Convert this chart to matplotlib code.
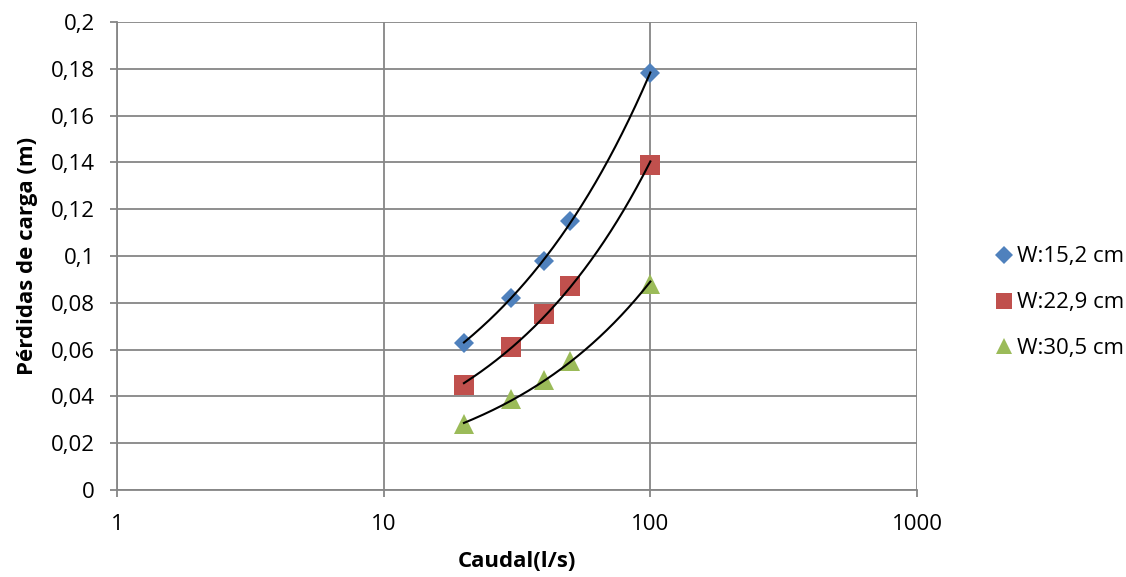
import matplotlib
matplotlib.use("Agg")
import matplotlib.pyplot as plt
import numpy as np
from matplotlib.ticker import FuncFormatter, FixedLocator, NullLocator

caudal = [20, 30, 40, 50, 100]
w152 = [0.063, 0.082, 0.098, 0.115, 0.178]
w229 = [0.045, 0.061, 0.075, 0.087, 0.139]
w305 = [0.028, 0.039, 0.047, 0.055, 0.088]
labels = ["W:15,2 cm", "W:22,9 cm", "W:30,5 cm"]

plt.rcParams['font.family'] = ['Open Sans', 'DejaVu Sans']

grid_c = "#868686"

fig = plt.figure(figsize=(11.26, 5.77), dpi=100)
ax = fig.add_axes([0.1039, 0.1508, 0.7105, 0.8111])

series = [
    (w152, "D", "#4F81BD", 10.5),
    (w229, "s", "#C0504D", 14),
    (w305, "^", "#9BBB59", 14),
]

handles = []
for (y, mk, col, ms), lab in zip(series, labels):
    h, = ax.plot(caudal, y, linestyle="none", marker=mk, color=col,
                 markersize=ms, markeredgewidth=0, label=lab, zorder=3)
    handles.append(h)
    # power trendline y = a * x^b
    b, loga = np.polyfit(np.log(caudal), np.log(y), 1)
    xs = np.linspace(min(caudal), max(caudal), 200)
    ax.plot(xs, np.exp(loga) * xs ** b, color="black", lw=1.5, zorder=4)

ax.set_xscale("log")
ax.set_xlim(1, 1000)
ax.set_ylim(0, 0.2)
ax.xaxis.set_major_locator(FixedLocator([1, 10, 100, 1000]))
ax.xaxis.set_minor_locator(NullLocator())
ax.xaxis.set_major_formatter(FuncFormatter(lambda v, p: f"{v:g}"))
ax.set_yticks(np.arange(0, 0.2001, 0.02))
ax.yaxis.set_major_formatter(FuncFormatter(lambda v, p: f"{round(v, 2):g}".replace(".", ",")))

ax.grid(True, color=grid_c, lw=1.3)
ax.set_axisbelow(True)
for s in ["top", "right"]:
    ax.spines[s].set_visible(False)
for s in ["left", "bottom"]:
    ax.spines[s].set_color(grid_c)
    ax.spines[s].set_linewidth(1.3)
ax.tick_params(axis="both", colors=grid_c, width=1.3, length=5, labelsize=16,
               labelcolor="black")
ax.tick_params(axis="x", pad=12)
ax.tick_params(axis="y", pad=11)

ax.set_xlabel("Caudal(l/s)", fontsize=16, fontweight="bold", labelpad=12)
ax.set_ylabel("Pérdidas de carga (m)", fontsize=16, fontweight="bold", labelpad=9)

ax.legend(handles=handles, loc="center left", bbox_to_anchor=(1.0725, 0.40),
          frameon=False, fontsize=16, handlelength=0.8, handletextpad=0.2,
          labelspacing=1.12, markerscale=0.85)

plt.savefig("out.png", dpi=100)
